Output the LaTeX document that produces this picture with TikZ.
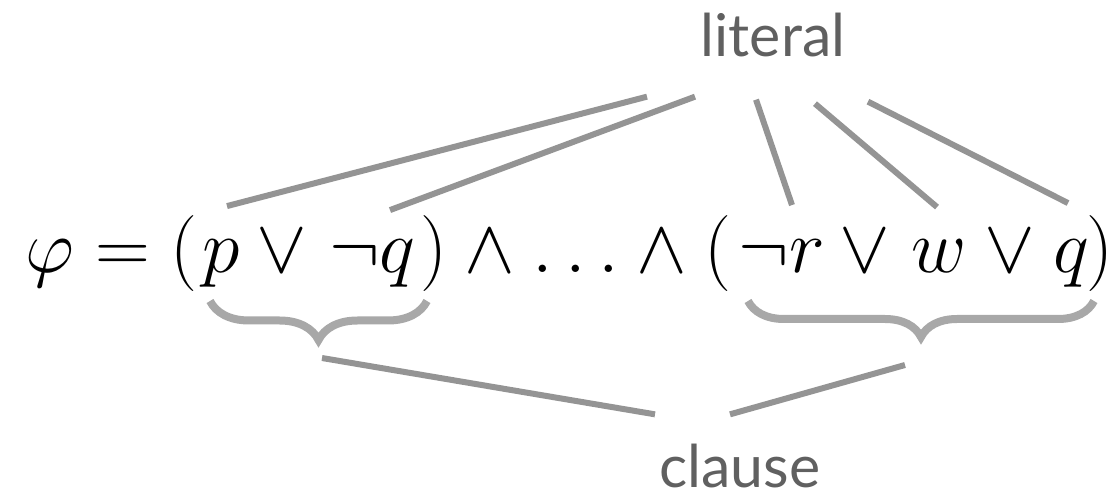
\documentclass[tikz,border=0pt]{standalone}
\usepackage{fix-cm}
\usepackage{fontspec}
\newfontfamily\labelfont{Lato}
\usetikzlibrary{decorations.pathreplacing}
\definecolor{LinkGray}{RGB}{148,148,148}
\definecolor{BraceGray}{RGB}{168,168,168}
\definecolor{LabelGray}{RGB}{96,96,96}
\tikzset{
  term/.style={inner sep=0pt,anchor=base,font=\fontsize{76}{90}\selectfont},
  tag/.style={inner sep=0pt,anchor=base,text=LabelGray,
    font=\labelfont\fontsize{59}{70}\selectfont},
  link/.style={line width=6pt,draw=LinkGray},
  clausebrace/.style={decorate,decoration={brace,mirror,amplitude=#1},
    line width=8pt,draw=BraceGray}
}

\begin{document}
\begin{tikzpicture}[x=1pt,y=1pt]
  \useasboundingbox (0,0) rectangle (1118,495);
  % formula
  \node[term] (head) at (111.5,222) {$\varphi = ($};
  \node[term] (p) at (221.5,222) {$p$};
  \node[term] (orA) at (282,222) {$\vee$};
  \node[term] (nq) at (372.5,222) {$\neg q$};
  \node[term] (mid) at (576,222) {$)\wedge\ldots\wedge($};
  \node[term] (nr) at (782,222) {$\neg r$};
  \node[term] (orB) at (865,222) {$\vee$};
  \node[term] (w) at (939,222) {$w$};
  \node[term] (orC) at (1010,222) {$\vee$};
  \node[term] (q) at (1071.5,222) {$q$};
  \node[term] (tail) at (1100,222) {$)$};

  \node[tag] (lit) at (773,438) {literal};
  \node[tag] (cls) at (740,8) {clause};

  % literals
  \draw[link] ([shift={(5.5,34)}]p.north) -- ([shift={(-126,-39)}]lit.south);
  \draw[link] ([shift={(17.5,30)}]nq.north) -- ([shift={(-78,-39)}]lit.south);
  \draw[link] ([shift={(10,35)}]nr.north) -- ([shift={(-17,-42)}]lit.south);
  \draw[link] ([shift={(-2,33)}]w.north) -- ([shift={(42,-46)}]lit.south);
  \draw[link] ([shift={(-3.5,37)}]q.north) -- ([shift={(95,-44)}]lit.south);

  % clauses
  \coordinate (braceA1) at (210,194);
  \coordinate (braceA2) at (427,194);
  \coordinate (braceB1) at (748,194);
  \coordinate (braceB2) at (1094,194);
  \coordinate (tipA) at (318.5,155);
  \coordinate (tipB) at (921,158);
  \draw[clausebrace=39pt] (braceA1) -- (braceA2);
  \draw[clausebrace=36pt] (braceB1) -- (braceB2);
  \draw[link] ([shift={(3.5,-18)}]tipA) -- ([shift={(-85,29)}]cls.north);
  \draw[link] ([shift={(-16,-28)}]tipB) -- ([shift={(-10,29)}]cls.north);
\end{tikzpicture}
\end{document}
